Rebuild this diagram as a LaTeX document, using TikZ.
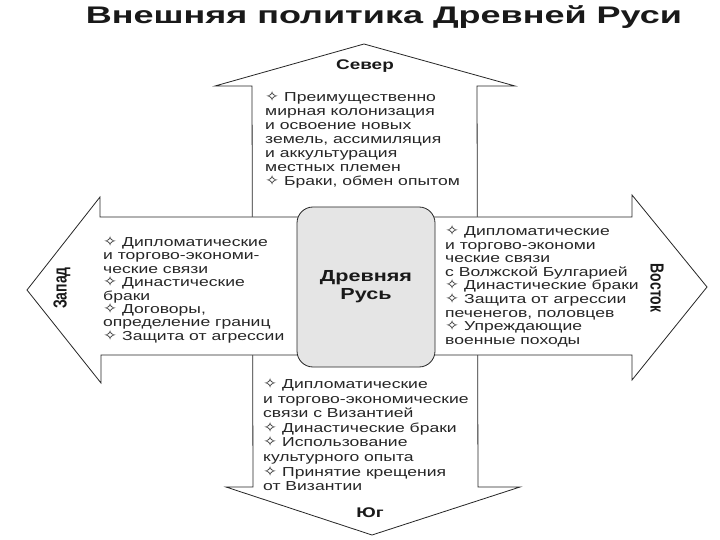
\documentclass[tikz,border=0pt]{standalone}
\usepackage{graphicx}
\usepackage{fontspec}
\setmainfont{Liberation Sans}[FakeStretch=1.35]
\newfontfamily\plainfont{Liberation Sans}
\newfontfamily\titlefont{Liberation Sans}[FakeStretch=1.5]
\newfontfamily\symfont{DejaVu Sans}[FakeStretch=1.2]
\newcommand{\dmd}{{\symfont\bfseries\fontsize{14}{14}\selectfont ✧}\ }
\newcommand{\blocktext}[2]{\parbox[t]{260pt}{\fontsize{13}{#1}\selectfont\raggedright #2}}
\begin{document}
\begin{tikzpicture}[x=1pt,y=-1pt,
  outline/.style={draw=black!85, line width=0.8pt, fill=white, line join=miter},
  centrebox/.style={draw=black!85, line width=0.8pt, fill=gray!20, rounded corners=16pt},
  txt/.style={anchor=base west, inner sep=0pt, text=black!85},
  lbl/.style={inner sep=0pt, text=black!90, font=\bfseries\fontsize{14}{14}\selectfont},
  vlbl/.style={inner sep=0pt, text=black!90}]
\useasboundingbox (0,0) rectangle (720,540);
\fill[white] (0,0) rectangle (720,540);
% vertical double arrow (north-south)
\draw[outline] (364,44) -- (515,86) -- (477,86) -- (478,487) -- (520,487) -- (372,535)
  -- (226,487) -- (253,487) -- (252,86) -- (215,86) -- cycle;
% horizontal double arrow (west-east)
\draw[outline] (27,290) -- (100,197) -- (100,217) -- (632,217) -- (632,195) -- (707,287)
  -- (632,380) -- (632,355) -- (101,355) -- (101,383) -- cycle;
% centre box
\draw[centrebox] (297,207) rectangle (435,367);
\node[inner sep=0pt, align=center, text=black!90, font=\bfseries\fontsize{16}{18}\selectfont] (rus) at (366,287) {Древняя\\Русь};
% title
\node[inner sep=0pt, text=black!90] (title) at (384,17) {\titlefont\bfseries\fontsize{24}{24}\selectfont Внешняя политика Древней Руси};
% direction labels
\node[lbl] (sever) at (365,66) {Север};
\node[lbl] (yug) at (370,513) {Юг};
\node[vlbl, rotate=90] (zapad) at (62,288) {\plainfont\bfseries\fontsize{14}{14}\selectfont\scalebox{1}[1.35]{Запад}};
\node[vlbl, rotate=-90] (vostok) at (657,288) {\plainfont\bfseries\fontsize{14}{14}\selectfont\scalebox{1}[1.35]{Восток}};
% text blocks
\node[txt] (ntext) at (265,101.5) {\blocktext{14}{\dmd Преимущественно\\
мирная колонизация\\
и освоение новых\\
земель, ассимиляция\\
и аккультурация\\
местных племен\\
\dmd Браки, обмен опытом}};
\node[txt] (wtext) at (103,246.5) {\blocktext{13.4}{\dmd Дипломатические\\
и торгово-экономи-\\
ческие связи\\
\dmd Династические\\
браки\\
\dmd Договоры,\\
определение границ\\
\dmd Защита от агрессии}};
\node[txt] (etext) at (445,235.5) {\blocktext{13.6}{\dmd Дипломатические\\
и торгово-экономи\\
ческие связи\\
с Волжской Булгарией\\
\dmd Династические браки\\
\dmd Защита от агрессии\\
печенегов, половцев\\
\dmd Упреждающие\\
военные походы}};
\node[txt] (stext) at (263,388.5) {\blocktext{14.6}{\dmd Дипломатические\\
и торгово-экономические\\
связи с Византией\\
\dmd Династические браки\\
\dmd Использование\\
культурного опыта\\
\dmd Принятие крещения\\
от Византии}};
\end{tikzpicture}
\end{document}
